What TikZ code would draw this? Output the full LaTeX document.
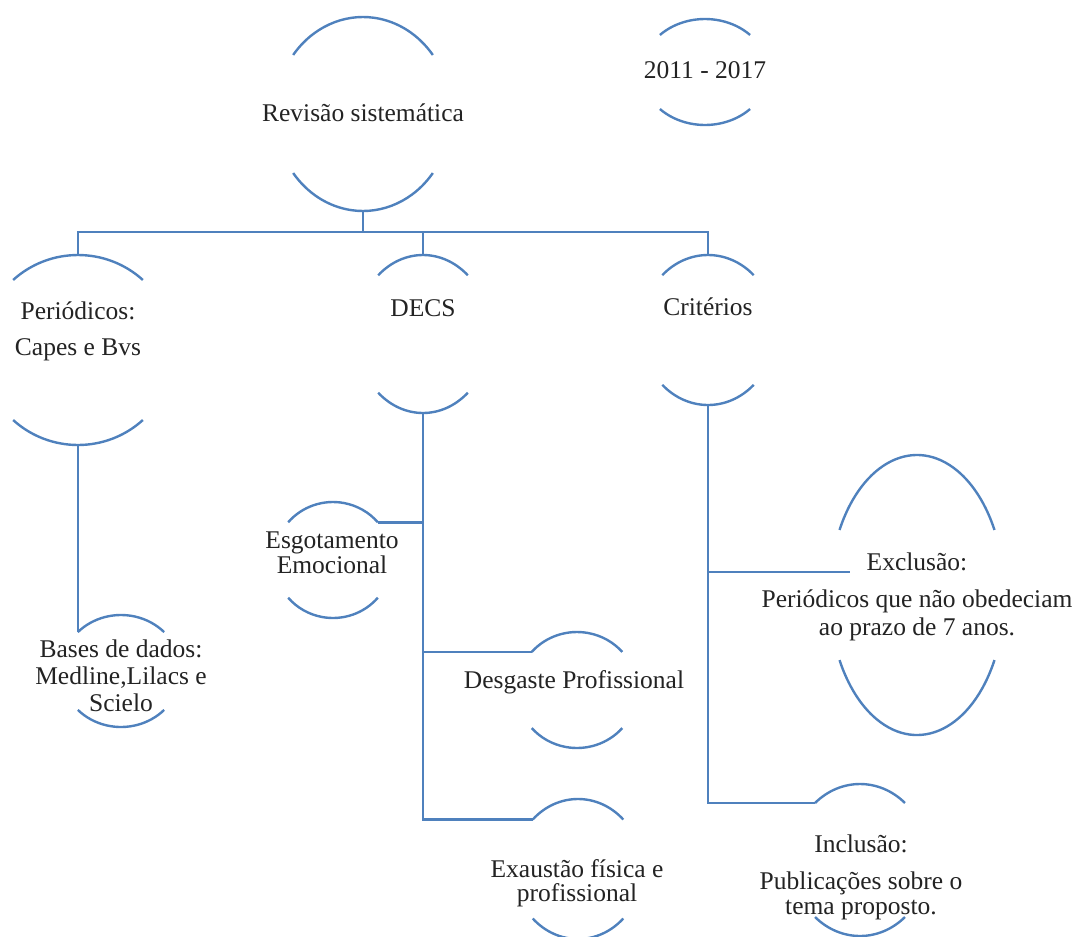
\documentclass[tikz,border=0pt]{standalone}
\usepackage{fontspec}
\setmainfont{Liberation Serif}
\usetikzlibrary{calc}
\definecolor{arcblue}{RGB}{79,129,189}
\definecolor{txt}{RGB}{35,35,35}
\tikzset{
  arcline/.style={draw=arcblue, line width=2.4pt},
  link/.style={draw=arcblue, line width=2.4pt},
  lbl/.style={text=txt, font=\fontsize{25.5}{27}\selectfont, align=center, inner sep=0pt},
}
\newcommand\ovalarcs[6]{%
  \coordinate (#1) at (#2,#3);
  \coordinate (#1-t) at (#2,#3-#5);
  \coordinate (#1-b) at (#2,#3+#5);
  \path (#1) ++(180+#6:#4 and #5) coordinate (#1-tl);
  \path (#1) ++(360-#6:#4 and #5) coordinate (#1-tr);
  \path (#1) ++(180-#6:#4 and #5) coordinate (#1-bl);
  \path (#1) ++(#6:#4 and #5) coordinate (#1-br);
  \draw[arcline] (#1-tl) arc[start angle=180+#6, end angle=360-#6, x radius=#4, y radius=#5];
  \draw[arcline] (#1-br) arc[start angle=#6, end angle=180-#6, x radius=#4, y radius=#5];
}
\begin{document}
\begin{tikzpicture}[x=1pt,y=-1pt]
\useasboundingbox (0,0) rectangle (1082,937);
\clip (0,0) rectangle (1082,937);
% oval outlines (top and bottom arcs only)
\ovalarcs{rev}{363}{114}{88}{97}{37.5}
\ovalarcs{yr}{705}{72}{63}{53}{44.3}
\ovalarcs{per}{78}{350}{96}{95}{47.5}
\ovalarcs{decs}{423}{334}{67}{79}{48}
\ovalarcs{cri}{708}{330}{67}{75}{47}
\ovalarcs{bas}{121}{671}{60}{56}{44}
\ovalarcs{esg}{333}{560}{59}{58}{40.5}
\ovalarcs{des}{577}{690}{60}{58}{41}
\ovalarcs{exa}{578}{869}{64}{70}{45}
\ovalarcs{exc}{917}{595}{87.5}{140}{27.7}
\ovalarcs{inc}{860}{860}{68}{76}{48.6}
% labels
\node[lbl] (rev-txt) at (363,113) {Revisão sistemática};
\node[lbl] (yr-txt) at (705,70) {2011 - 2017};
\node[lbl] (per-txt) at (78,331) {Periódicos:\\[9pt]Capes e Bvs};
\node[lbl] (decs-txt) at (423,308) {DECS};
\node[lbl] (cri-txt) at (708,307) {Critérios};
\node[lbl] (bas-txt) at (121,676) {Bases de dados:\\Medline,Lilacs e\\Scielo};
\node[lbl] (esg-txt) at (332,553) {Esgotamento\\[-2pt]Emocional};
\node[lbl] (des-txt) at (574,682) {Desgaste Profissional};
\node[lbl] (exa-txt) at (577,883) {Exaustão física e\\[-3pt]profissional};
\node[lbl] (exc-txt) at (917,597) {Exclusão:\\[10pt]Periódicos que não obedeciam\\[1pt]ao prazo de 7 anos.};
\node[lbl] (inc-txt) at (861,877) {Inclusão:\\[10pt]Publicações sobre o\\[-2pt]tema proposto.};
% connectors
\coordinate (bus) at (363,232);
\coordinate (exc-in) at (850,572);
\draw[link] (rev-b) -- (bus);
\draw[link] (per-t) -- (per-t |- bus) -- (cri-t |- bus) -- (cri-t);
\draw[link] (decs-t) -- (decs-t |- bus);
\draw[link] (per-b) -- (per-b |- bas-tl);
\draw[link] (decs-b) -- (decs-b |- exa-tl) -- (exa-tl);
\draw[link] (decs-b |- esg-tr) -- (esg-tr);
\draw[link] (decs-b |- des-tl) -- (des-tl);
\draw[link] (cri-b) -- (cri-b |- inc-tl) -- (inc-tl);
\draw[link] (cri-b |- exc-in) -- (exc-in);
\end{tikzpicture}
\end{document}
